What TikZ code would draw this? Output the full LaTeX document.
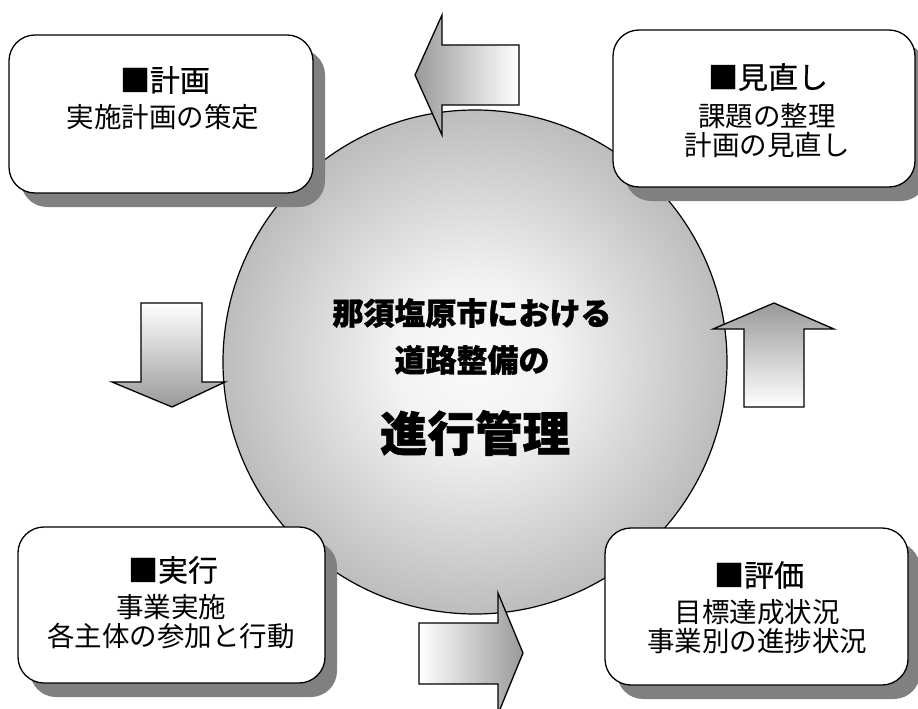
\documentclass[tikz,border=0pt]{standalone}
\usepackage{fontspec}
\newfontfamily\jp{Noto Sans CJK JP}
\newfontfamily\jpm[FakeBold=0.6]{Noto Sans CJK JP}
\newfontfamily\jph[BoldFeatures={FakeBold=1.2}]{Noto Sans CJK JP}
\usetikzlibrary{shadows}
\pgfdeclareradialshading{hubshade}{\pgfpoint{0bp}{0bp}}{color(0bp)=(gray!4); color(8bp)=(gray!10); color(25bp)=(gray!52); color(50bp)=(gray!52)}
\begin{document}
\begin{tikzpicture}[x=1pt,y=-1pt,
  box/.style={draw=black, line width=1.3pt, fill=white, rounded corners=26pt,
    drop shadow={shadow xshift=12pt, shadow yshift=-14pt, fill=gray, opacity=1}},
  ttl/.style={font=\jpm\fontsize{30}{32}\selectfont, inner sep=0pt},
  sub/.style={font=\jp\fontsize{27.5}{29}\selectfont, align=center, inner sep=0pt},
  ctr/.style={font=\jph\bfseries\fontsize{31}{33}\selectfont, inner sep=0pt},
  bigctr/.style={font=\jph\bfseries\fontsize{47.5}{49}\selectfont, inner sep=0pt},
  arr/.style={draw=black, line width=1.3pt, line join=miter}
]
\useasboundingbox (0,0) rectangle (918,709);

% central circle
\node[circle, draw=black, line width=1.2pt, shading=hubshade,
      minimum size=504pt, inner sep=0pt] (hub) at (475,362) {};

% arrows
\shadedraw[arr, left color=gray!80, right color=white]
  (415,75) -- (442,15) -- (442,45) -- (519,45) -- (519,105) -- (442,105) -- (442,135) -- cycle;
\shadedraw[arr, top color=white, bottom color=gray!80]
  (141,303) -- (202,303) -- (202,382) -- (225,382) -- (172,407) -- (112,382) -- (141,382) -- cycle;
\shadedraw[arr, top color=gray!80, bottom color=white]
  (774,303) -- (834,329) -- (804,329) -- (804,407) -- (744,407) -- (744,329) -- (713,329) -- cycle;
\shadedraw[arr, left color=white, right color=gray!80]
  (419,623) -- (498,623) -- (498,593) -- (523,653) -- (498,714) -- (498,684) -- (419,684) -- cycle;

% boxes
\node[box, minimum width=304pt, minimum height=158pt] (plan) at (161,114) {};
\node[box, minimum width=302pt, minimum height=157pt] (review) at (764,108.5) {};
\node[box, minimum width=307pt, minimum height=156pt] (do) at (171.5,605) {};
\node[box, minimum width=303pt, minimum height=157pt] (check) at (756.5,606.5) {};

% box texts
\node[ttl] (planT) at (165,80) {■計画};
\node[sub] (planS) at (163,117) {実施計画の策定};
\node[ttl] (reviewT) at (768,77) {■見直し};
\node[sub] (reviewS) at (767,131) {課題の整理\\計画の見直し};
\node[ttl] (doT) at (173,570) {■実行};
\node[sub] (doS) at (171,622) {事業実施\\各主体の参加と行動};
\node[ttl] (checkT) at (759,575) {■評価};
\node[sub] (checkS) at (757,627) {目標達成状況\\事業別の進捗状況};

% center texts
\node[ctr] (c1) at (472,313) {那須塩原市における};
\node[ctr] (c2) at (472,360) {道路整備の};
\node[bigctr] (c3) at (475,433) {進行管理};
\end{tikzpicture}
\end{document}
